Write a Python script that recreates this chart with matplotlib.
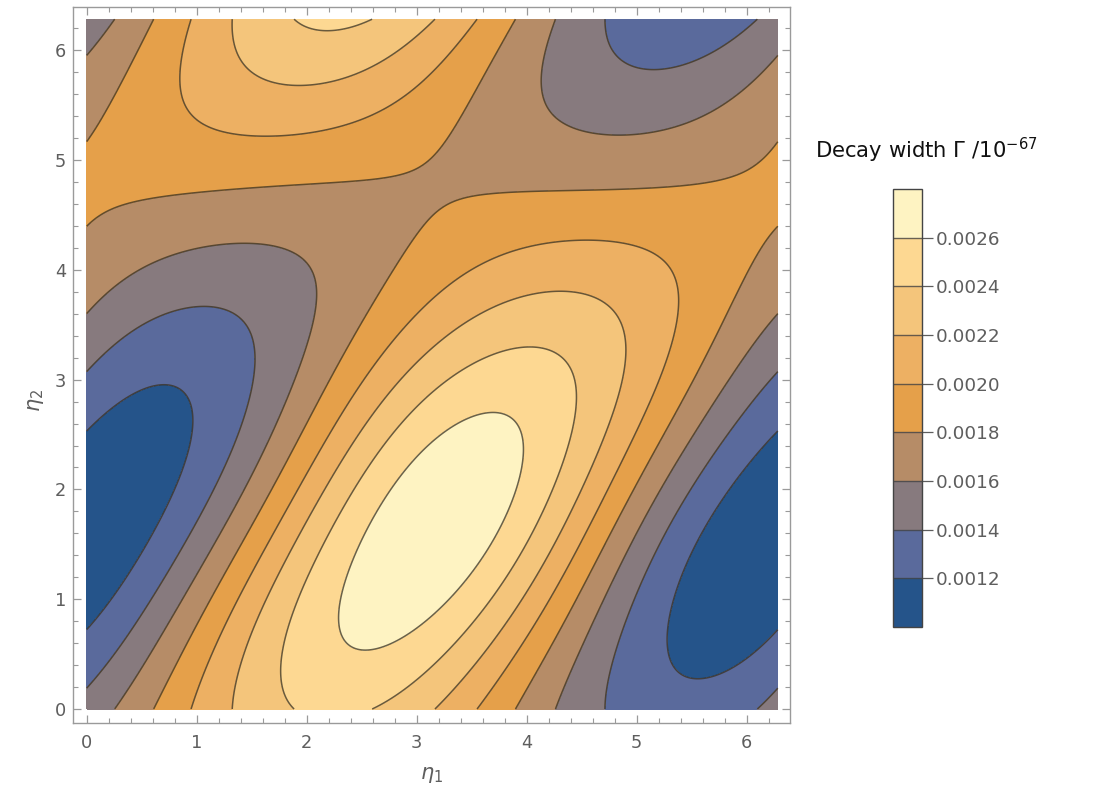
import numpy as np
import matplotlib
matplotlib.use("Agg")
import matplotlib.pyplot as plt
from matplotlib.colors import ListedColormap, BoundaryNorm
from matplotlib.cm import ScalarMappable
from matplotlib.ticker import MultipleLocator, NullLocator

plt.rcParams['font.family'] = ['DejaVu Sans']
plt.rcParams['mathtext.fontset'] = 'dejavusans'

# contour levels and fill colours (lowest band first)
levels = [0.0012, 0.0014, 0.0016, 0.0018, 0.0020, 0.0022, 0.0024, 0.0026]
band_colors = ['#25548a', '#5a6a9c', '#877a7e', '#b68c67', '#e5a04a',
               '#edb063', '#f4c57b', '#fdd892', '#fef3c2']
cbar_range = (0.0010, 0.0028)

c12 = [(0, 2.53), (0, 0.735), (6.283, 2.51), (6.283, 0.73),
       (0.212, 2.723), (0.455, 2.89), (0.697, 2.94), (0.848, 2.875), (0.909, 2.693),
       (0.894, 2.45), (0.818, 2.177), (0.666, 1.812), (0.515, 1.509), (0.303, 1.145),
       (0.121, 0.90), (6.03, 2.268), (5.757, 1.873), (5.515, 1.418), (5.364, 0.993),
       (5.318, 0.598), (5.424, 0.325), (5.605, 0.258), (5.848, 0.355), (6.06, 0.537)]
c14 = [(0, 3.09), (0, 0.173), (6.283, 3.06), (6.283, 0.16), (4.72, 0), (6.12, 0),
       (4.73, 6.283), (6.105, 6.283),
       (0.212, 3.33), (0.515, 3.543), (0.757, 3.634), (1.03, 3.68), (1.212, 3.664),
       (1.424, 3.543), (1.5, 3.361), (1.515, 3.209), (1.485, 2.935), (1.394, 2.571),
       (1.182, 2.116), (0.969, 1.721), (0.757, 1.357), (0.515, 0.963), (0.273, 0.537),
       (0.121, 0.294), (4.818, 0.446), (5.0, 0.902), (5.242, 1.357), (5.515, 1.812),
       (5.818, 2.268), (6.06, 2.723), (4.773, 6.063), (4.909, 5.85), (5.121, 5.795),
       (5.394, 5.835), (5.696, 5.972), (5.939, 6.138)]
c16 = [(0, 5.93), (0, 3.60), (6.283, 5.91), (6.283, 3.59), (0.266, 0), (4.29, 0),
       (0.257, 6.283), (4.27, 6.283),
       (0.212, 3.816), (0.455, 4.028), (0.727, 4.15), (1.03, 4.196), (1.439, 4.247),
       (1.848, 4.18), (2.03, 4.059), (2.106, 3.846), (2.076, 3.513), (1.97, 3.209),
       (1.878, 2.996), (1.696, 2.511), (1.455, 2.025), (1.212, 1.60), (0.969, 1.205),
       (0.727, 0.81), (0.485, 0.446), (4.151, 5.865), (4.136, 5.531), (4.242, 5.38),
       (4.364, 5.334), (4.757, 5.228), (5.151, 5.258), (5.605, 5.394), (5.939, 5.607),
       (6.06, 3.39), (5.696, 2.814), (5.455, 2.42), (5.212, 2.025), (4.969, 1.60),
       (4.727, 1.114), (4.515, 0.658), (4.364, 0.294)]
c18 = [(0, 5.21), (0, 4.32), (6.283, 5.20), (6.283, 4.32), (0.627, 0), (3.93, 0),
       (0.615, 6.283), (3.92, 6.283),
       (0.121, 5.394), (0.303, 5.699), (0.485, 6.0),
       (0.364, 4.56), (0.818, 4.666), (1.03, 4.681), (1.273, 4.711), (1.636, 4.742),
       (2.0, 4.802), (2.606, 4.863), (2.909, 4.985), (3.15, 5.167), (3.364, 5.41),
       (3.575, 5.713), (3.757, 6.017),
       (2.848, 4.06), (3.03, 4.302), (3.242, 4.454), (3.606, 4.605), (4.06, 4.681),
       (4.667, 4.727), (5.0, 4.742), (5.605, 4.818), (6.0, 4.97),
       (2.788, 3.97), (2.545, 3.604), (2.485, 3.573), (2.242, 3.087), (2.182, 2.996),
       (1.939, 2.48), (1.696, 2.025), (1.455, 1.60), (1.212, 1.175), (0.969, 0.75),
       (0.757, 0.355), (5.394, 2.784), (5.151, 2.359), (4.909, 1.903), (4.667, 1.418),
       (4.424, 0.932), (4.182, 0.507), (6.06, 4.059), (5.848, 3.725), (5.666, 3.33),
       (5.605, 3.18)]
c20 = [(0.97, 0), (3.59, 0), (0.948, 6.283), (3.575, 6.283),
       (0.879, 6.002), (0.848, 5.759), (0.864, 5.546), (0.969, 5.394), (1.182, 5.258),
       (1.455, 5.212), (1.696, 5.197), (2.151, 5.288), (2.606, 5.44), (2.969, 5.683),
       (3.273, 5.956),
       (2.848, 3.42), (2.424, 2.875), (2.212, 2.48), (1.97, 2.025), (1.727, 1.60),
       (1.485, 1.175), (1.242, 0.75), (1.06, 0.385),
       (3.151, 3.755), (3.454, 3.998), (3.909, 4.21), (4.363, 4.271), (4.545, 4.278),
       (5.0, 4.217), (5.273, 4.089), (5.364, 3.846), (5.378, 3.573), (5.33, 3.2),
       (5.121, 2.814), (4.878, 2.329), (4.636, 1.873), (4.394, 1.418), (4.151, 0.963),
       (3.848, 0.507)]
c22 = [(1.333, 0), (3.196, 0), (1.333, 6.283), (3.18, 6.283),
       (1.348, 6.06), (1.455, 5.88), (1.575, 5.80), (1.636, 5.729), (1.909, 5.683),
       (2.303, 5.683), (2.666, 5.774), (2.909, 5.926),
       (2.848, 2.996), (2.788, 2.875), (2.485, 2.42), (2.212, 1.965), (1.939, 1.478),
       (1.696, 0.993), (1.485, 0.567),
       (3.151, 3.391), (3.454, 3.604), (3.757, 3.74), (4.121, 3.80), (4.454, 3.77),
       (4.667, 3.695), (4.863, 3.42), (4.878, 3.18), (4.85, 2.814), (4.727, 2.389),
       (4.515, 1.903), (4.242, 1.418), (3.939, 0.963), (3.575, 0.507)]
c24 = [(1.924, 0), (2.62, 0), (1.933, 6.283), (2.606, 6.283), (2.23, 6.18),
       (3.29, 3.0), (2.97, 2.753), (2.666, 2.389), (2.364, 1.965), (2.091, 1.478),
       (1.879, 1.023), (1.787, 0.567), (1.848, 0.112),
       (3.636, 3.178), (3.969, 3.285), (4.212, 3.254), (4.363, 3.148), (4.424, 2.996),
       (4.424, 2.632), (4.303, 2.177), (4.06, 1.66), (3.787, 1.205), (3.485, 0.81),
       (3.18, 0.537), (2.848, 0.173)]
c26 = [(3.757, 2.626), (3.894, 2.541), (3.924, 2.298), (3.878, 2.025), (3.757, 1.721),
       (3.575, 1.418), (3.333, 1.114), (3.09, 0.872), (2.879, 0.659), (2.606, 0.567),
       (2.394, 0.613), (2.318, 0.75), (2.318, 0.993), (2.394, 1.296), (2.545, 1.60),
       (2.727, 1.842), (2.97, 2.147), (3.212, 2.389), (3.455, 2.571)]
# extreme values (centre of the light ellipse / of the dark valley)
peak = (3.12, 1.60, 0.0028)
trough = (6.25, 1.62, 0.0010)

contour_pts = [c12, c14, c16, c18, c20, c22, c24, c26]


def basis(x, y):
    cols = [np.ones_like(x)]
    for m in range(3):
        for n in range(-2, 3):
            if m == 0 and n <= 0:
                continue
            cols += [np.cos(m * x + n * y), np.sin(m * x + n * y)]
    return np.stack(cols, axis=-1)


# smooth periodic surface through the read-off contour points
px, py, pv, pw = [], [], [], []
for lev, pts in zip(levels, contour_pts):
    for a, b in pts:
        px.append(a); py.append(b); pv.append(lev); pw.append(1.0)
for a, b, v in (peak, trough):
    px.append(a); py.append(b); pv.append(v); pw.append(3.0)
px, py, pv, pw = map(np.array, (px, py, pv, pw))
A = basis(px, py) * pw[:, None]
coef, *_ = np.linalg.lstsq(A, pv * pw, rcond=None)

eta = np.linspace(0, 2 * np.pi, 400)
E1, E2 = np.meshgrid(eta, eta)
G = basis(E1, E2) @ coef

fig = plt.figure(figsize=(10.96, 7.96), dpi=100)
ax = fig.add_axes([0.0666, 0.0917, 0.6542, 0.8995])

fill_levels = [min(G.min(), cbar_range[0]) - 1] + levels + [max(G.max(), cbar_range[1]) + 1]
ax.contourf(E1, E2, G, levels=fill_levels, colors=band_colors)
ax.contour(E1, E2, G, levels=levels, colors='#383020', linewidths=1.1, alpha=0.75)

ax.set_xlim(-0.1245, 6.394)
ax.set_ylim(-0.1275, 6.394)
ax.xaxis.set_major_locator(MultipleLocator(1))
ax.yaxis.set_major_locator(MultipleLocator(1))
ax.xaxis.set_minor_locator(MultipleLocator(0.2))
ax.yaxis.set_minor_locator(MultipleLocator(0.2))
frame_gray = '#9a9a9a'
for s in ax.spines.values():
    s.set_color(frame_gray)
    s.set_linewidth(1.0)
ax.tick_params(which='both', direction='in', top=True, right=True,
               color=frame_gray, labelcolor='#5e5e5e', labelsize=12.8)
ax.tick_params(which='major', length=6, width=0.9)
ax.tick_params(which='minor', length=3.5, width=0.8)
ax.tick_params(axis='x', pad=8)
ax.tick_params(axis='y', pad=5)

ax.set_xlabel(r'$\eta_1$', color='#5e5e5e', fontsize=15)
ax.set_ylabel(r'$\eta_2$', color='#5e5e5e', fontsize=15)
ax.xaxis.set_label_coords(0.5, -0.058)
ax.yaxis.set_label_coords(-0.038, 0.45)

# legend bar
cax = fig.add_axes([0.8148, 0.2123, 0.0265, 0.5503])
bounds = [cbar_range[0]] + levels + [cbar_range[1]]
sm = ScalarMappable(norm=BoundaryNorm(bounds, len(band_colors)),
                    cmap=ListedColormap(band_colors))
cb = fig.colorbar(sm, cax=cax, ticks=levels, drawedges=True, format='%.4f')
cax.yaxis.set_minor_locator(NullLocator())
cb.outline.set_edgecolor('#444444')
cb.outline.set_linewidth(1.0)
cb.dividers.set_color('#444444')
cb.dividers.set_alpha(0.8)
cb.dividers.set_linewidth(1.0)
cax.tick_params(which='major', direction='out', length=8, width=0.9, color='#5e5e5e',
                labelcolor='#5e5e5e', labelsize=13.2, pad=2)
fig.text(0.7436, 0.8116, u'Decay width \u0393 /10$^{-67}$', fontsize=15.2,
         color='#111111', ha='left', va='center')

fig.savefig('out.png', dpi=100)
